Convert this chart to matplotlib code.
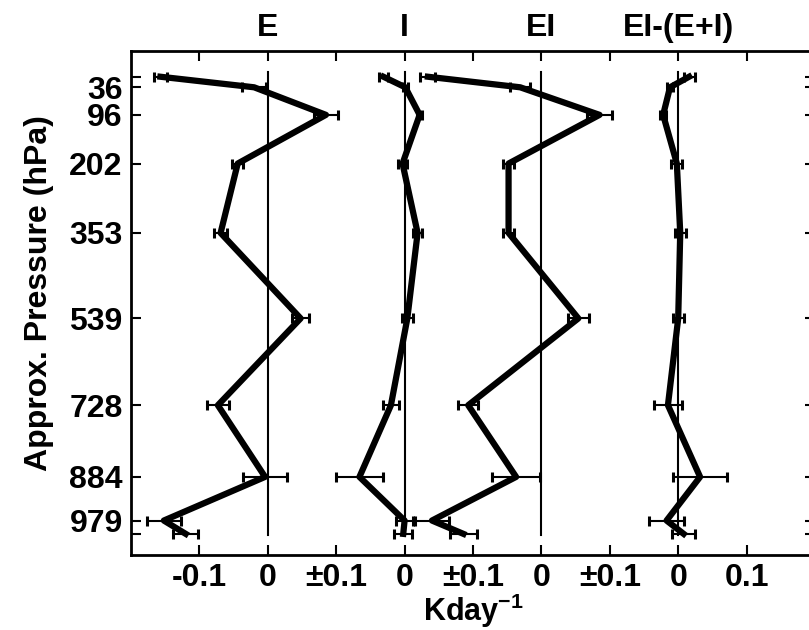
import numpy as np
import matplotlib
matplotlib.use('Agg')
import matplotlib.pyplot as plt

plt.rcParams['font.family'] = ['Liberation Sans', 'DejaVu Sans']
plt.rcParams['font.weight'] = 'bold'
plt.rcParams['axes.labelweight'] = 'bold'
plt.rcParams['font.size'] = 23
plt.rcParams['mathtext.fontset'] = 'custom'
plt.rcParams['mathtext.rm'] = 'Liberation Sans:bold'
plt.rcParams['mathtext.bf'] = 'Liberation Sans:bold'

# approx. pressure levels (hPa) and labels
levels = [13, 36, 96, 202, 353, 539, 728, 884, 979, 1008]
level_labels = ['', '36', '96', '202', '353', '539', '728', '884', '979', '']

panels = ['E', 'I', 'EI', 'EI-(E+I)']

E = [-0.157, -0.02, 0.085, -0.044, -0.069, 0.048, -0.073, -0.004, -0.152, -0.12]
E_err = [0.010, 0.017, 0.017, 0.008, 0.010, 0.012, 0.016, 0.032, 0.025, 0.018]

I = [-0.031, 0.001, 0.022, -0.003, 0.019, 0.004, -0.020, -0.066, 0.0, -0.002]
I_err = [0.007, 0.004, 0.004, 0.006, 0.007, 0.008, 0.012, 0.035, 0.013, 0.013]

EI = [-0.166, -0.031, 0.085, -0.048, -0.048, 0.054, -0.107, -0.037, -0.160, -0.114]
EI_err = [0.011, 0.015, 0.018, 0.008, 0.008, 0.015, 0.015, 0.035, 0.025, 0.020]

D = [0.016, -0.012, -0.022, -0.002, 0.003, 0.0, -0.015, 0.032, -0.017, 0.008]
D_err = [0.008, 0.004, 0.004, 0.008, 0.008, 0.008, 0.020, 0.039, 0.026, 0.017]

series = [(E, E_err), (I, I_err), (EI, EI_err), (D, D_err)]
offsets = [0.0, 0.2, 0.4, 0.6]

xticks = [-0.1, 0, 0.1, 0.2, 0.3, 0.4, 0.5, 0.6, 0.7]
xtick_labels = ['-0.1', '0', '\u00b10.1', '0', '\u00b10.1', '0', '\u00b10.1', '0', '0.1']

fig = plt.figure(figsize=(8.09, 6.30), dpi=100)
ax = fig.add_axes([131/809, 75/630, 684/809, 504/630])

for name, (vals, errs), off in zip(panels, series, offsets):
    ax.plot([off, off], [2, 1010], color='black', lw=1.5, zorder=1)
    x = np.array(vals) + off
    ax.errorbar(x, levels, xerr=errs, fmt='none', ecolor='black',
                elinewidth=1.5, capsize=3.6, capthick=2.2, zorder=2)
    ax.plot(x, levels, color='black', lw=4.5, zorder=3)
    ax.annotate(name, xy=(off, 1), xycoords=('data', 'axes fraction'),
                xytext=(0, 6), textcoords='offset points',
                ha='center', va='bottom')

ax.set_xlim(-0.2, 0.8)
ax.set_ylim(1054, -43)
ax.set_xticks(xticks)
ax.set_xticklabels(xtick_labels)
ax.set_yticks(levels)
ax.set_yticklabels(level_labels)
ax.tick_params(direction='in', length=7, width=1.5, top=True, right=True, pad=6)
for sp in ax.spines.values():
    sp.set_linewidth(2)

ax.set_ylabel('Approx. Pressure (hPa)')
ax.yaxis.set_label_coords(-0.113, 0.52)
ax.set_xlabel(r'Kday$^{-1}$', labelpad=-1, fontsize=22)

fig.savefig('out.png', dpi=100)
